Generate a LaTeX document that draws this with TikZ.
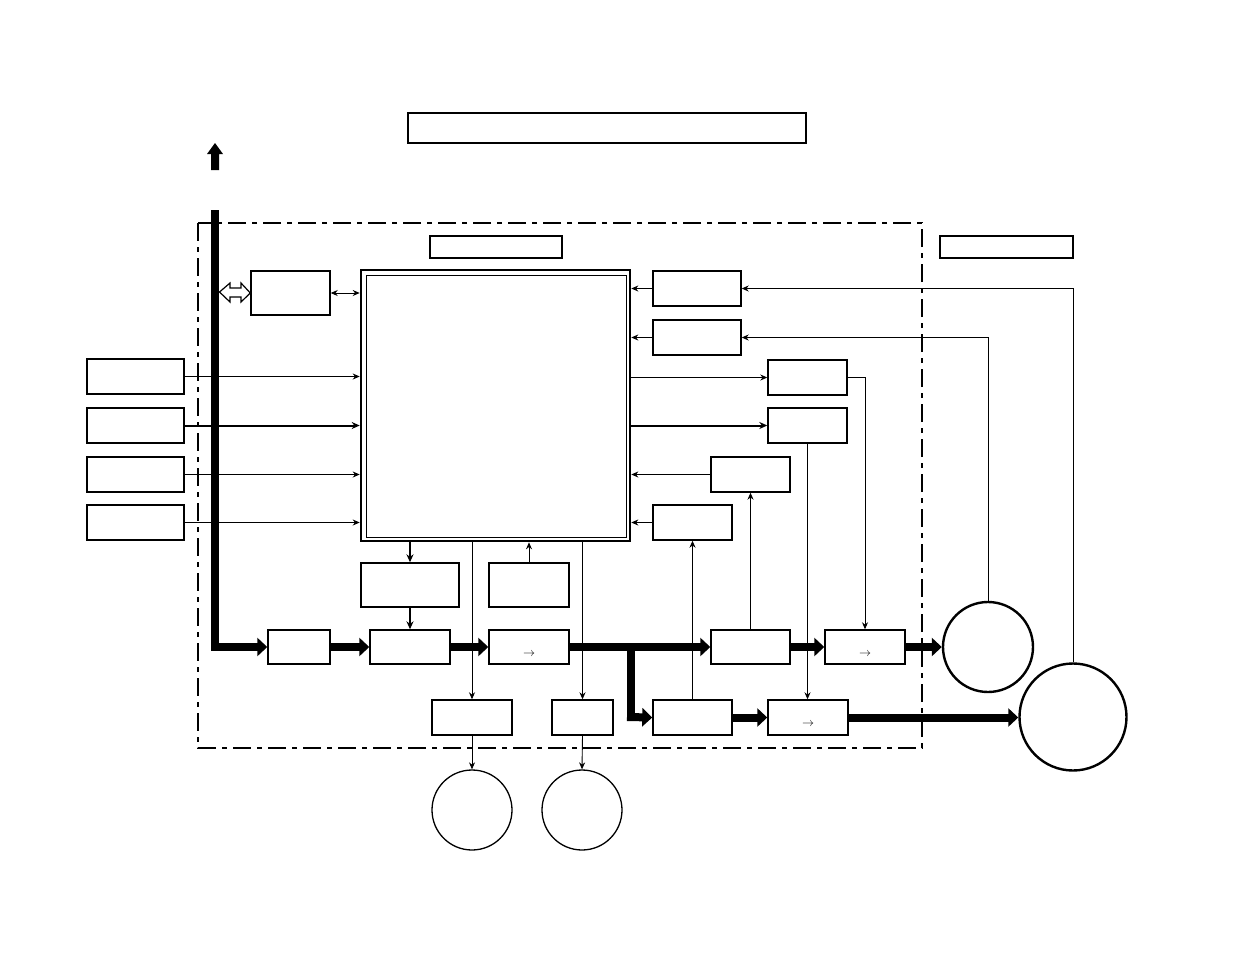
\documentclass[tikz,border=0pt]{standalone}
\usetikzlibrary{arrows.meta,calc}
\tikzset{
  box/.style={draw,line width=1.4pt,inner sep=0pt,fill=white},
  thinbox/.style={draw,line width=0.9pt,inner sep=0pt},
  circ/.style={draw,circle,line width=2.4pt,inner sep=0pt},
  arr/.style={line width=0.9pt,-{Stealth[length=7pt,width=6pt]}},
  arrthick/.style={line width=2pt,-{Stealth[length=8pt,width=7pt]}},
  arrtwo/.style={line width=0.9pt,{Stealth[length=7pt,width=6pt]}-{Stealth[length=7pt,width=6pt]}},
  line/.style={line width=0.9pt},
  bus/.style={line width=8pt,-{Triangle[length=10pt,width=18pt]}},
  busline/.style={line width=8pt},
  frame/.style={line width=2.6pt,dash pattern=on 18pt off 6pt on 5pt off 6pt},
  tarrow/.style={inner sep=0pt,font=\fontsize{13}{13}\selectfont}
}
\newcommand\bx[6][box]{\node[#1,minimum width={(#5-#3)*1pt},minimum height={(#6-#4)*1pt}] (#2) at ({(#3+#5)/2},{(#4+#6)/2}) {};}
\begin{document}
\begin{tikzpicture}[x=1pt,y=-1pt]
\useasboundingbox (0,0) rectangle (1235,954);
% dash-dot frame
\draw[frame] (198,223) rectangle (922,748);
% title and labels
\bx{title}{408}{113}{806}{143}
\bx{lab1}{430}{236}{562}{258}
\bx{lab2}{940}{236}{1073}{258}
% up arrow
\fill (211,170) -- (211,154) -- (207,154) -- (215,143) -- (223,154) -- (219,154) -- (219,170) -- cycle;
% cpu
\node[draw,line width=2.6pt,inner sep=0pt,minimum width=269pt,minimum height=271pt] (cpu) at (495.5,405.5) {};
\bx[thinbox]{cpuin}{366}{275}{626}{537}
% box next to bus
\bx{A}{251}{271}{330}{315}
% left boxes
\bx{L1}{87}{359}{184}{394}
\bx{L2}{87}{408}{184}{443}
\bx{L3}{87}{457}{184}{492}
\bx{L4}{87}{505}{184}{540}
% right boxes
\bx{R1}{653}{271}{741}{306}
\bx{R2}{653}{320}{741}{355}
\bx{R3}{768}{360}{847}{395}
\bx{R4}{768}{408}{847}{443}
\bx{R5}{711}{457}{790}{492}
\bx{R6}{653}{505}{732}{540}
% middle boxes
\bx{C1}{361}{563}{459}{607}
\bx{C2}{489}{563}{569}{607}
% main row
\bx{B1}{268}{630}{330}{664}
\bx{B2}{370}{630}{450}{664}
\bx{B3}{489}{630}{569}{664}
\bx{B4}{711}{630}{790}{664}
\bx{B5}{825}{630}{905}{664}
% second row
\bx{D1}{432}{700}{512}{735}
\bx{D2}{552}{700}{613}{735}
\bx{B6}{653}{700}{732}{735}
\bx{B7}{768}{700}{848}{735}
% circles
\node[circ,minimum size=90pt] (F1) at (988,647) {};
\node[circ,minimum size=107pt] (F2) at (1073,717) {};
\node[circ,line width=1.3pt,minimum size=80pt] (E1) at (472,810) {};
\node[circ,line width=1.3pt,minimum size=80pt] (E2) at (582,810) {};
% text arrows
\node[tarrow] at ([yshift=-7pt]B3.center) {$\rightarrow$};
\node[tarrow] at ([yshift=-7pt]B5.center) {$\rightarrow$};
\node[tarrow] at ([yshift=-7pt]B7.center) {$\rightarrow$};
% bus
\coordinate (busTop) at (215,210);
\draw[bus] (busTop) |- (B1.west);
\draw[bus] (B1.east) -- (B2.west);
\draw[bus] (B2.east) -- (B3.west);
\draw[bus] (B3.east) -- (B3.east -| B4.west);
\coordinate (br) at (631,647);
\draw[busline] (br) -- (631,717);
\draw[bus] (627,717) -- (B6.west);
\draw[bus] (B4.east) -- (B5.west);
\draw[bus] (B5.east) -- (F1.west);
\draw[bus] (B6.east) -- (B7.west);
\draw[bus] (B7.east -| B7.east) -- (F2.west |- B7.east);
% hollow double arrow between bus and A
\draw[line width=1.2pt,fill=white,line join=miter] (219.5,292) -- (230,283) -- (230,288) -- (241,288) -- (241,283) -- (A.west) -- (241,302) -- (241,297) -- (230,297) -- (230,302) -- cycle;
\draw[arrtwo] (A.east) -- (A.east -| cpu.west);
% left inputs
\draw[arr] (L1.east) -- (L1.east -| cpu.west);
\draw[arrthick] (L2.east) -- (L2.east -| cpu.west);
\draw[arr] (L3.east) -- (L3.east -| cpu.west);
\draw[arr] (L4.east) -- (L4.east -| cpu.west);
% right side
\draw[arr] (R1.west) -- (R1.west -| cpu.east);
\draw[arr] (R2.west) -- (R2.west -| cpu.east);
\draw[arr] (R3.west -| cpu.east) -- (R3.west);
\draw[arrthick] (R4.west -| cpu.east) -- (R4.west);
\draw[arr] (R5.west) -- (R5.west -| cpu.east);
\draw[arr] (R6.west) -- (R6.west -| cpu.east);
\draw[arr] (F2.north) |- (R1.east);
\draw[arr] (F1.north) |- (R2.east);
\draw[arr] (R3.east) -| (B5.north);
\draw[arr] (R4.south) -- (R4.south |- B7.north);
\draw[arr] (B4.north -| R5.south) -- (R5.south);
\draw[arr] (B6.north -| R6.south) -- (R6.south);
% below cpu
\draw[arrthick] (C1.north |- cpu.south) -- (C1.north);
\draw[arrthick] (C1.south) -- (C1.south |- B2.north);
\draw[arr] (C2.north) -- (C2.north |- cpu.south);
\draw[arr] (D1.north |- cpu.south) -- (D1.north);
\draw[arr] (D2.north |- cpu.south) -- (D2.north);
\draw[arr] (D1.south) -- (E1.north);
\draw[arr] (D2.south) -- (E2.north);
\end{tikzpicture}
\end{document}
